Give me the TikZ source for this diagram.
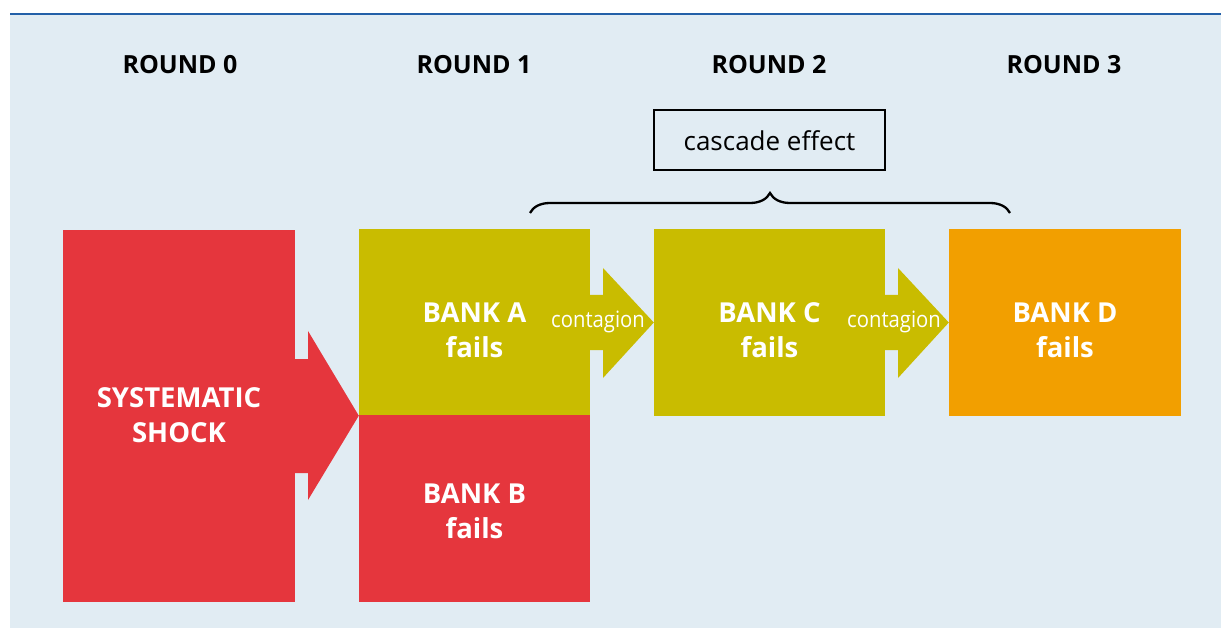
\documentclass[tikz,border=0pt]{standalone}
\usepackage{fontspec}
\setmainfont{Open Sans}
\newfontfamily\narrowfont[FakeStretch=0.9]{Open Sans}
\usetikzlibrary{decorations.pathreplacing}
\definecolor{bgblue}{HTML}{E1ECF3}
\definecolor{topblue}{HTML}{2360A8}
\definecolor{shockred}{HTML}{E5363D}
\definecolor{olive}{HTML}{C9BC00}
\definecolor{orangeD}{HTML}{F29F00}
\tikzset{
  box/.style={rectangle, inner sep=0pt, draw=none},
  boxtext/.style={text=white, font=\fontsize{27.5}{35}\selectfont\bfseries, align=center, inner sep=0pt},
  roundlbl/.style={font=\fontsize{25}{30}\selectfont\bfseries, text=black, inner sep=0pt},
  contag/.style={text=white, font=\narrowfont\fontsize{22.5}{26}\selectfont, inner sep=0pt},
}
\begin{document}
\begin{tikzpicture}[x=1pt,y=-1pt]
\useasboundingbox (0,0) rectangle (1221,628);
\fill[bgblue] (10,15) rectangle (1221,628);
\draw[topblue, line width=2pt] (10,14) -- (1221,14);

% round labels
\node[roundlbl] (r0) at (180,65) {ROUND 0};
\node[roundlbl] (r1) at (474,65) {ROUND 1};
\node[roundlbl] (r2) at (769,65) {ROUND 2};
\node[roundlbl] (r3) at (1064,65) {ROUND 3};

% boxes
\node[box, fill=shockred, minimum width=232pt, minimum height=372pt] (shock) at (179,416) {};
\node[box, fill=olive, minimum width=231pt, minimum height=186pt] (bankA) at (474.5,322.5) {};
\node[box, fill=shockred, minimum width=231pt, minimum height=187pt] (bankB) at (474.5,508.5) {};
\node[box, fill=olive, minimum width=231pt, minimum height=186pt] (bankC) at (769.5,322.5) {};
\node[box, fill=orangeD, minimum width=232pt, minimum height=186pt] (bankD) at (1065,322.5) {};

% shock arrow
\fill[shockred] (shock.east |- 0,359) -- (308,359) -- (308,331) -- (bankA.south west) -- (308,500) -- (308,473) -- (shock.east |- 0,473) -- cycle;

% contagion arrows
\fill[olive] (bankA.east |- 0,295) -- (603,295) -- (603,268) -- (bankC.west) -- (603,378) -- (603,350) -- (bankA.east |- 0,350) -- cycle;
\fill[olive] (bankC.east |- 0,295) -- (898,295) -- (898,268) -- (bankD.west) -- (898,378) -- (898,350) -- (bankC.east |- 0,350) -- cycle;
\node[contag] (c1) at (598,322) {contagion};
\node[contag] (c2) at (894,322) {contagion};

% texts
\node[boxtext] (tshock) at ([yshift=1pt]shock.center) {SYSTEMATIC\\SHOCK};
\node[boxtext] (tA) at ([yshift=-8pt]bankA.center) {BANK A\\fails};
\node[boxtext] (tB) at ([yshift=-2.5pt]bankB.center) {BANK B\\fails};
\node[boxtext] (tC) at ([yshift=-8pt]bankC.center) {BANK C\\fails};
\node[boxtext] (tD) at ([yshift=-8pt]bankD.center) {BANK D\\fails};

% cascade box and brace
\node[draw=black, line width=2pt, minimum width=231pt, minimum height=60pt, inner sep=0pt, font=\fontsize{26}{30}\selectfont] (cascade) at (769.5,140.5) {cascade effect};
\coordinate (braceL) at (530,213);
\coordinate (braceR) at (1010,213);
\draw[line width=2.3pt, decorate, decoration={brace, amplitude=20pt, raise=0pt}] (braceL) -- (braceR);
\end{tikzpicture}
\end{document}
